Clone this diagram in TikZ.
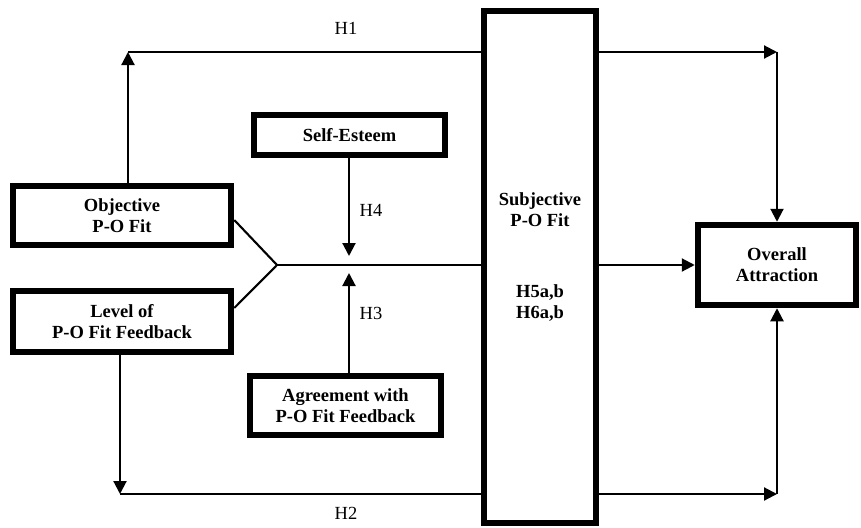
\documentclass[tikz,border=0pt]{standalone}
\usepackage{fontspec}
\setmainfont{Liberation Serif}
\usetikzlibrary{arrows.meta}
\begin{document}
\begin{tikzpicture}[x=1pt,y=-1pt,
  box/.style={draw, line width=6.5pt, fill=white, align=center, inner sep=0pt,
    font=\fontsize{18.5}{21}\selectfont\bfseries},
  boxtext/.style={align=center, inner sep=0pt, font=\fontsize{18.5}{21}\selectfont\bfseries},
  conn/.style={line width=2.1pt},
  arr/.style={conn, -{Triangle[length=13pt,width=13pt]}},
  lab/.style={inner sep=0pt, font=\fontsize{18.5}{21}\selectfont}]
\useasboundingbox (0,0) rectangle (861,527);

% boxes
\node[box, minimum width=218pt, minimum height=59pt] (obj) at (122,215.5) {Objective\\P-O Fit};
\node[box, minimum width=218pt, minimum height=61pt] (lvl) at (122,321.5) {Level of\\P-O Fit Feedback};
\node[box, minimum width=191pt, minimum height=40pt] (self) at (349.5,135) {Self-Esteem};
\node[box, minimum width=191pt, minimum height=59pt] (agr) at (345.5,405.5) {Agreement with\\P-O Fit Feedback};
\node[box, minimum width=112pt, minimum height=512pt] (sub) at (540,267) {};
\node[boxtext] (subt) at (540,210) {Subjective\\P-O Fit};
\node[boxtext] (subh) at (540,303) {H5a,b\\H6a,b};
\node[box, minimum width=158pt, minimum height=80pt] (ov) at (777,265) {Overall\\Attraction};

% coordinates
\coordinate (tl) at (128,52);
\coordinate (tr) at (777,52);
\coordinate (bl) at (120,494);
\coordinate (br) at (777,494);
\coordinate (j) at (277,265);
\coordinate (h4end) at (349,256);
\coordinate (h3end) at (349,273);

% connectors
\draw[arr] (tl |- obj.north) -- (tl);
\draw[conn] (tl) -- (tl -| sub.west);
\draw[arr] (tl -| sub.east) -- (tr);
\draw[arr] (tr) -- (ov.north);

\draw[arr] (bl |- lvl.south) -- (bl);
\draw[conn] (bl) -- (bl -| sub.west);
\draw[arr] (bl -| sub.east) -- (br);
\draw[arr] (br) -- (ov.south);

\draw[conn] ([yshift=-4.5pt]obj.east) -- (j) -- ([yshift=13.5pt]lvl.east);
\draw[conn] (j) -- (j -| sub.west);
\draw[arr] (j -| sub.east) -- (ov.west);

\draw[arr] (h4end |- self.south) -- (h4end);
\draw[arr] (h3end |- agr.north) -- (h3end);

% labels
\node[lab] (h1) at (346,28) {H1};
\node[lab] (h2) at (346,513) {H2};
\node[lab] (h4) at (371,210) {H4};
\node[lab] (h3) at (371,313) {H3};
\end{tikzpicture}
\end{document}
